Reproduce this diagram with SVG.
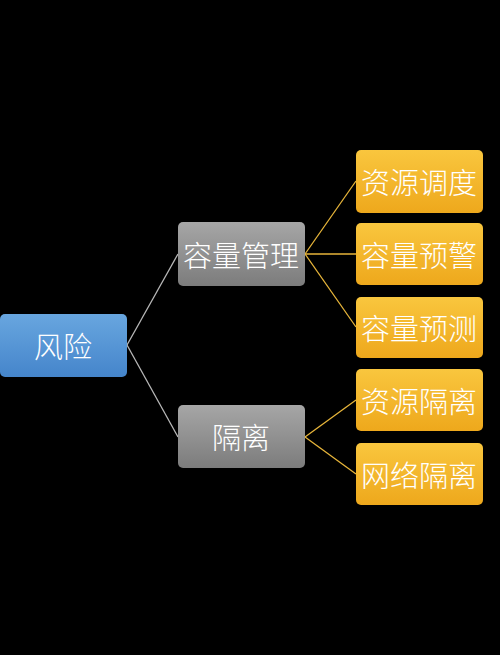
<svg xmlns="http://www.w3.org/2000/svg" width="500" height="655" viewBox="0 0 500 655">
<defs>
<linearGradient id="gBlue" x1="0" y1="0" x2="0" y2="1"><stop offset="0" stop-color="#68a6df"/><stop offset="1" stop-color="#4585cb"/></linearGradient>
<linearGradient id="gGray" x1="0" y1="0" x2="0" y2="1"><stop offset="0" stop-color="#a6a6a6"/><stop offset="1" stop-color="#7c7c7c"/></linearGradient>
<linearGradient id="gOr" x1="0" y1="0" x2="0" y2="1"><stop offset="0" stop-color="#f9c63e"/><stop offset="1" stop-color="#eea81c"/></linearGradient>
</defs>
<style>
text{font-family:"Noto Sans CJK SC","Noto Sans",sans-serif;font-size:29px;font-weight:300;fill:#ffffff;text-anchor:middle;dominant-baseline:central}
.b{fill:url(#gBlue)}.g{fill:url(#gGray)}.o{fill:url(#gOr)}
.cg{stroke:#b8b8b8;stroke-width:1.3;fill:none}.co{stroke:#e7b53a;stroke-width:1.3;fill:none}
</style>
<rect width="500" height="655" fill="#000"/>
<g id="connectors">
<line class="cg" x1="127" y1="345" x2="178" y2="254"/>
<line class="cg" x1="127" y1="345" x2="178" y2="437"/>
<line class="co" x1="305" y1="254" x2="356" y2="181"/>
<line class="co" x1="305" y1="254" x2="356" y2="254"/>
<line class="co" x1="305" y1="254" x2="356" y2="327"/>
<line class="co" x1="305" y1="437" x2="356" y2="400"/>
<line class="co" x1="305" y1="437" x2="356" y2="474"/>
</g>
<g id="risk"><rect class="b" x="0" y="314" width="127" height="63" rx="5"/><text x="63" y="345">风险</text></g>
<g id="capacity"><rect class="g" x="178" y="222" width="127" height="64" rx="5"/><text x="241" y="254">容量管理</text></g>
<g id="isolation"><rect class="g" x="178" y="405" width="127" height="63" rx="5"/><text x="241" y="436">隔离</text></g>
<g id="n1"><rect class="o" x="356" y="150" width="127" height="63" rx="5"/><text x="419" y="181">资源调度</text></g>
<g id="n2"><rect class="o" x="356" y="223" width="127" height="62" rx="5"/><text x="419" y="254">容量预警</text></g>
<g id="n3"><rect class="o" x="356" y="297" width="127" height="61" rx="5"/><text x="419" y="327">容量预测</text></g>
<g id="n4"><rect class="o" x="356" y="369" width="127" height="62" rx="5"/><text x="419" y="400">资源隔离</text></g>
<g id="n5"><rect class="o" x="356" y="443" width="127" height="62" rx="5"/><text x="419" y="474">网络隔离</text></g>
</svg>
